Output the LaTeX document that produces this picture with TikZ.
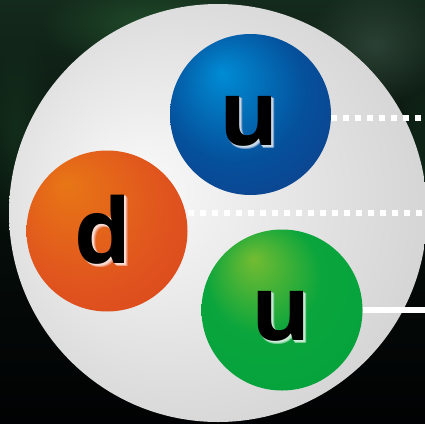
\documentclass[tikz,border=0pt]{standalone}
\usepackage{fontspec}
\setmainfont{Open Sans}
\usetikzlibrary{fadings}

% colours
\definecolor{bgtop}{RGB}{20,42,28}
\definecolor{bgmid}{RGB}{6,14,10}
\definecolor{bgbot}{RGB}{1,2,3}
\definecolor{blobgreen}{RGB}{35,85,45}
\definecolor{blobgrey}{RGB}{65,88,75}
\definecolor{blobdark}{RGB}{20,50,30}

\definecolor{protonhi}{RGB}{250,250,250}
\definecolor{protonmid}{RGB}{222,222,222}
\definecolor{protonlo}{RGB}{188,188,188}

\definecolor{bluehi}{RGB}{0,140,212}
\definecolor{bluemid}{RGB}{5,80,155}
\definecolor{bluelo}{RGB}{25,50,128}

\definecolor{orangehi}{RGB}{232,118,22}
\definecolor{orangemid}{RGB}{224,84,30}
\definecolor{orangelo}{RGB}{215,60,28}

\definecolor{greenhi}{RGB}{115,188,50}
\definecolor{greenmid}{RGB}{10,165,60}
\definecolor{greenlo}{RGB}{0,158,60}

% ball shadings: highlight off-centre towards the upper left
\pgfdeclareradialshading{protonball}{\pgfpoint{-10bp}{3bp}}%
  {color(0bp)=(protonhi); color(22bp)=(protonmid); color(50bp)=(protonlo)}
\pgfdeclareradialshading{blueball}{\pgfpoint{-9bp}{13bp}}%
  {color(0bp)=(bluehi); color(22bp)=(bluemid); color(50bp)=(bluelo)}
\pgfdeclareradialshading{orangeball}{\pgfpoint{-13bp}{15bp}}%
  {color(0bp)=(orangehi); color(25bp)=(orangemid); color(50bp)=(orangelo)}
\pgfdeclareradialshading{greenball}{\pgfpoint{-9bp}{16bp}}%
  {color(0bp)=(greenhi); color(18bp)=(greenmid); color(50bp)=(greenlo)}

\tikzfading[name=softblob, inner color=transparent!0, outer color=transparent!100]

\tikzset{
  quark/.style={circle, minimum size=161pt, inner sep=0pt, shading=#1},
  flavour/.style={font=\fontsize{90}{90}\selectfont\bfseries, inner sep=0pt, anchor=base},
  dotline/.style={draw=white, line width=5.5pt, dash pattern=on 6pt off 6pt},
  solidline/.style={draw=white, line width=5.5pt},
}

% letter with a soft light halo towards the lower right (#1: ball colour, #2: letter)
\newcommand{\haloed}[2]{%
  \rlap{\kern3.5pt\raisebox{-3.5pt}{\color{white!25!#1}#2}}%
  \rlap{\kern3pt\raisebox{-2.5pt}{\color{white!45!#1}#2}}%
  \rlap{\kern2.5pt\raisebox{-3pt}{\color{white!45!#1}#2}}%
  \rlap{\kern2pt\raisebox{-2pt}{\color{white!75!#1}#2}}%
  \rlap{\kern1.5pt\raisebox{-1pt}{\color{white!80!#1}#2}}%
  \rlap{\kern1pt\raisebox{-1.5pt}{\color{white!80!#1}#2}}%
  {\color{black}#2}%
}

\begin{document}
\begin{tikzpicture}[x=1pt,y=-1pt]
  \useasboundingbox (0,0) rectangle (425,423);

  % blurred dark background
  \shade[top color=bgtop, bottom color=bgbot, middle color=bgmid] (0,0) rectangle (425,423);
  \fill[blobgreen, path fading=softblob, opacity=0.8] (150,25) ellipse (110 and 45);
  \fill[blobgrey, path fading=softblob, opacity=0.55] (375,45) ellipse (70 and 60);
  \fill[blobdark, path fading=softblob, opacity=0.8] (15,130) ellipse (40 and 110);
  \fill[blobdark, path fading=softblob, opacity=0.6] (420,160) ellipse (25 and 90);

  % proton
  \shade[shading=protonball] (218,213) circle (209);

  % quarks
  \node[quark=blueball] (qu1) at (250.5,114.5) {};
  \node[quark=orangeball] (qd) at (107,231) {};
  \node[quark=greenball] (qu2) at (282,310) {};

  % flavour labels
  \node[flavour] (tu1) at (249,145) {\haloed{bluemid}{u}};
  \node[flavour] (td) at (103,263) {\haloed{orangemid}{d}};
  \node[flavour] (tu2) at (281,340) {\haloed{greenmid}{u}};

  % lines leaving the quarks
  \coordinate (e1) at (428,118);
  \coordinate (e2) at (428,213);
  \coordinate (e3) at (428,310);
  \draw[dotline] (qu1.east |- e1) -- (e1);
  \draw[dotline] (qd.east |- e2) -- (e2);
  \draw[solidline] (qu2.east) -- (e3);
\end{tikzpicture}
\end{document}
